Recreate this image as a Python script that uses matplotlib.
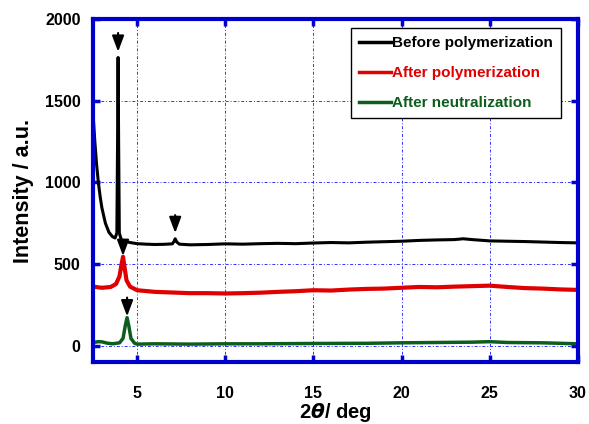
import matplotlib
matplotlib.use("Agg")
import matplotlib.pyplot as plt

# XRD patterns of the film at each stage
x_before = [2.5, 2.6, 2.7, 2.8, 2.9, 3.0, 3.2, 3.4, 3.6, 3.75, 3.85, 3.89, 3.92, 3.95, 3.99, 4.1, 4.3,
            4.6, 5.0, 5.5, 6.0, 6.5, 7.0, 7.1, 7.16, 7.25, 7.4, 8.0, 9.0, 10.0, 11.0, 12.0, 13.0,
            14.0, 15.0, 16.0, 17.0, 18.0, 19.0, 20.0, 21.0, 22.0, 23.0, 23.5, 24.0, 25.0, 26.0,
            27.0, 28.0, 29.0, 30.0]
y_before = [1420, 1250, 1110, 1000, 915, 845, 750, 695, 668, 660, 690, 1250, 1765, 1250, 690, 650, 640,
            632, 625, 622, 620, 621, 624, 640, 655, 635, 622, 618, 620, 624, 622, 625, 627,
            625, 629, 632, 630, 634, 637, 640, 645, 648, 650, 655, 650, 642, 640,
            638, 635, 632, 630]

x_after_pol = [2.5, 3.0, 3.5, 3.8, 4.0, 4.1, 4.2, 4.3, 4.4, 4.6, 5.0, 6.0, 7.0, 8.0, 9.0, 10.0,
               11.0, 12.0, 13.0, 14.0, 15.0, 16.0, 17.0, 18.0, 19.0, 20.0, 21.0, 22.0, 23.0,
               24.0, 25.0, 26.0, 27.0, 28.0, 29.0, 30.0]
y_after_pol = [362, 355, 360, 378, 425, 490, 545, 470, 400, 362, 340, 330, 326, 322, 322, 320,
               322, 325, 330, 334, 340, 338, 344, 348, 350, 355, 360, 358, 362,
               365, 368, 360, 353, 350, 345, 342]

x_after_neu = [2.5, 2.8, 3.0, 3.3, 3.6, 4.0, 4.2, 4.33, 4.43, 4.53, 4.65, 4.85, 5.0, 6.0, 8.0,
               10.0, 12.0, 15.0, 18.0, 20.0, 22.0, 24.0, 25.0, 26.0, 28.0, 30.0]
y_after_neu = [20, 25, 24, 16, 12, 18, 45, 125, 172, 120, 45, 16, 10, 12, 10,
               12, 12, 14, 15, 18, 20, 22, 25, 20, 18, 12]

labels = ["Before polymerization", "After polymerization", "After neutralization"]
colors = ["#000000", "#e00000", "#0d5e1c"]

# arrow positions (x, tail, head)
arrows = [(3.92, 1915, 1800), (7.16, 800, 690), (4.2, 630, 550), (4.43, 295, 180)]

blue = "#0000cc"
plt.rcParams["font.family"] = ["Liberation Sans", "DejaVu Sans"]
plt.rcParams["font.weight"] = "bold"

fig = plt.figure(figsize=(5.89, 4.24), dpi=100)
ax = fig.add_axes([0.158, 0.146, 0.823, 0.809])

ax.plot(x_before, y_before, color=colors[0], lw=2.2, label=labels[0])
ax.plot(x_after_pol, y_after_pol, color=colors[1], lw=3.0, label=labels[1])
ax.plot(x_after_neu, y_after_neu, color=colors[2], lw=2.5, label=labels[2])

for xa, y0, y1 in arrows:
    ax.annotate("", xy=(xa, y1), xytext=(xa, y0),
                arrowprops=dict(arrowstyle="-|>,head_length=0.8,head_width=0.3",
                                mutation_scale=12, color="black", lw=1.5,
                                shrinkA=0, shrinkB=0))

ax.set_xlim(2.5, 30)
ax.set_ylim(-100, 2000)
ax.set_xticks([5, 10, 15, 20, 25, 30])
ax.set_yticks([0, 500, 1000, 1500, 2000])

ax.grid(True, color="#3030ff", linestyle=(0, (3, 2, 1, 2)), lw=0.7)
ax.set_axisbelow(True)

for s in ax.spines.values():
    s.set_color(blue)
    s.set_linewidth(3)
ax.tick_params(direction="in", length=5, width=2.5, color=blue,
               top=True, right=True, labelsize=11.5)
ax.tick_params(axis="x", pad=17)
ax.tick_params(axis="y", pad=9)

ax.set_xlabel(r"2$\theta$/ deg", fontsize=14.5, fontweight="bold", labelpad=0)
ax.set_ylabel("Intensity / a.u.", fontsize=15.5, fontweight="bold", labelpad=8)

leg = ax.legend(loc="upper right", bbox_to_anchor=(0.965, 0.973), fontsize=11,
                labelcolor="linecolor", fancybox=False, framealpha=1,
                edgecolor="black", handlelength=2.1, handletextpad=0.1,
                labelspacing=1.05, borderpad=0.5, borderaxespad=0)
leg.get_frame().set_linewidth(1.0)
for h in leg.get_lines():
    h.set_linewidth(2.5)

fig.savefig("out.png", dpi=100)
plt.close(fig)
